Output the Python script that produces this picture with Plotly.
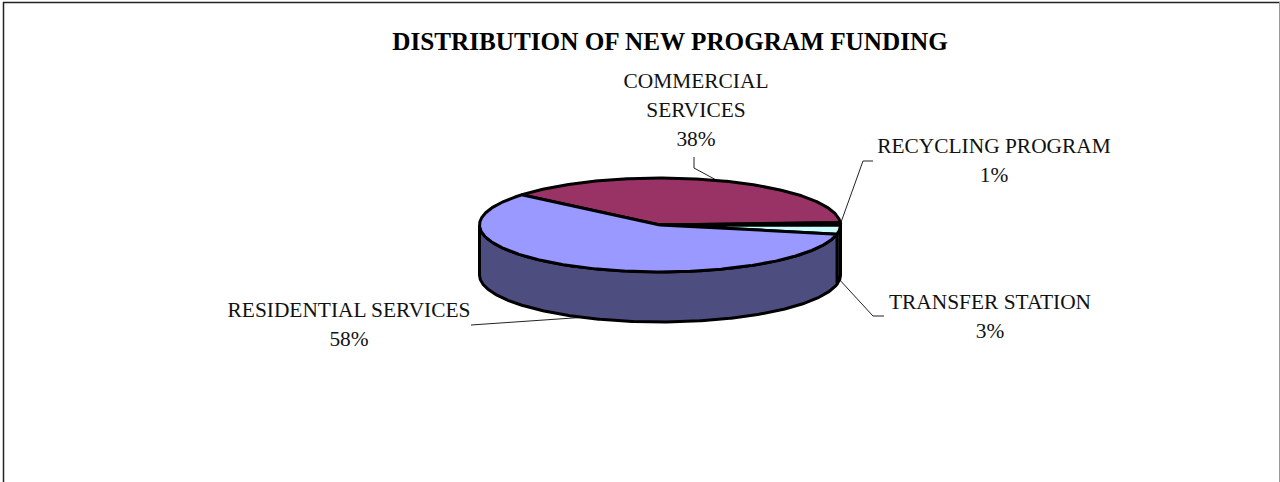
import math
import plotly.graph_objects as go

# Funding shares, listed clockwise from the slice boundary at the upper left
categories = ["COMMERCIAL SERVICES", "RECYCLING PROGRAM", "TRANSFER STATION", "RESIDENTIAL SERVICES"]
shares = [38, 1, 3, 58]
top_colors = ["#993366", "#CCFFFF", "#CCFFFF", "#9999FF"]
side_colors = ["#4D1A33", "#667F7F", "#667F7F", "#4D4D80"]
title_text = "DISTRIBUTION OF NEW PROGRAM FUNDING"
label_lines = [["COMMERCIAL", "SERVICES"], ["RECYCLING PROGRAM"], ["TRANSFER STATION"], ["RESIDENTIAL SERVICES"]]

# Disc geometry in the page-sized plotting coordinates
CX, CY, RX, RY, DEPTH = 660, 225, 180.5, 47, 50
START_ANGLE = 140.0
FONT = "Liberation Serif"
LABEL_SIZE = 21.4
OUTLINE = 3

# Text anchor of each label's first line and the leader elbow points
label_anchor = [(696, 83), (994, 148), (990, 304), (349, 312)]
line_gap = 29
leader_elbows = [[(694, 157), (694, 168)], [(873, 161), (863, 161)], [(884, 316), (873, 316)], [(471, 325)]]
leader_lift = [0, 0, DEPTH, DEPTH]


def rim(deg, drop=0.0):
    rad = math.radians(deg)
    return CX + RX * math.cos(rad), CY - RY * math.sin(rad) + drop


def arc(a, b, drop=0.0):
    steps = max(2, int(abs(a - b) * 2))
    return [rim(a + (b - a) * i / steps, drop) for i in range(steps + 1)]


spans = []
angle = START_ANGLE
total = sum(shares)
for share in shares:
    sweep = share / total * 360
    spans.append((angle, angle - sweep))
    angle -= sweep

fig = go.Figure()


def add_poly(points, fill):
    xs = [p[0] for p in points]
    ys = [p[1] for p in points]
    fig.add_trace(go.Scatter(x=xs + xs[:1], y=ys + ys[:1], mode="lines", fill="toself", fillcolor=fill,
                             line=dict(color="black", width=OUTLINE), hoverinfo="skip", showlegend=False))


# Leader lines start on the rim at each slice's mid angle and sit behind the disc
for (a, b), elbows, lift in zip(spans, leader_elbows, leader_lift):
    start = rim((a + b) / 2, lift)
    pts = [start] + elbows[::-1] if len(elbows) > 1 else [start] + elbows
    fig.add_trace(go.Scatter(x=[p[0] for p in pts], y=[p[1] for p in pts], mode="lines",
                             line=dict(color="#222222", width=1), hoverinfo="skip", showlegend=False))

# Outer wall: only the front half of the rim (180 to 360 degrees) is visible
for (a, b), col in zip(spans, side_colors):
    for shift in (0, 360):
        hi = min(a + shift, 360)
        lo = max(b + shift, 180)
        if hi > lo:
            add_poly(arc(hi, lo) + arc(lo, hi, DEPTH), col)

# Upper faces of the slices
for (a, b), col in zip(spans, top_colors):
    add_poly([(CX, CY)] + arc(a, b), col)

# Labels: category lines followed by the percentage
tx, ty, tt = [], [], []
for lines, share, (x, y) in zip(label_lines, shares, label_anchor):
    for i, text in enumerate(lines + [f"{share}%"]):
        tx.append(x)
        ty.append(y + i * line_gap)
        tt.append(text)
fig.add_trace(go.Scatter(x=tx, y=ty, text=tt, mode="text", textposition="middle center",
                         textfont=dict(family=FONT, size=LABEL_SIZE, color="#111111"),
                         hoverinfo="skip", showlegend=False))

fig.update_layout(
    width=1280, height=482, margin=dict(l=0, r=0, t=0, b=0),
    paper_bgcolor="white", plot_bgcolor="white",
    title=dict(text=f"<b>{title_text}</b>", x=670 / 1280, xanchor="center", y=1 - 41 / 482, yanchor="middle",
               font=dict(family=FONT, size=25.2, color="black")),
    xaxis=dict(range=[0, 1280], visible=False, fixedrange=True),
    yaxis=dict(range=[482, 0], visible=False, fixedrange=True),
    shapes=[
        dict(type="line", x0=3, x1=1280, y0=2.5, y1=2.5, line=dict(color="#222222", width=1.5)),
        dict(type="line", x0=3.5, x1=3.5, y0=2, y1=482, line=dict(color="#222222", width=1.5)),
        dict(type="line", x0=1279.5, x1=1279.5, y0=2, y1=482, line=dict(color="#999999", width=1)),
    ],
)
fig.write_html("out.html")
